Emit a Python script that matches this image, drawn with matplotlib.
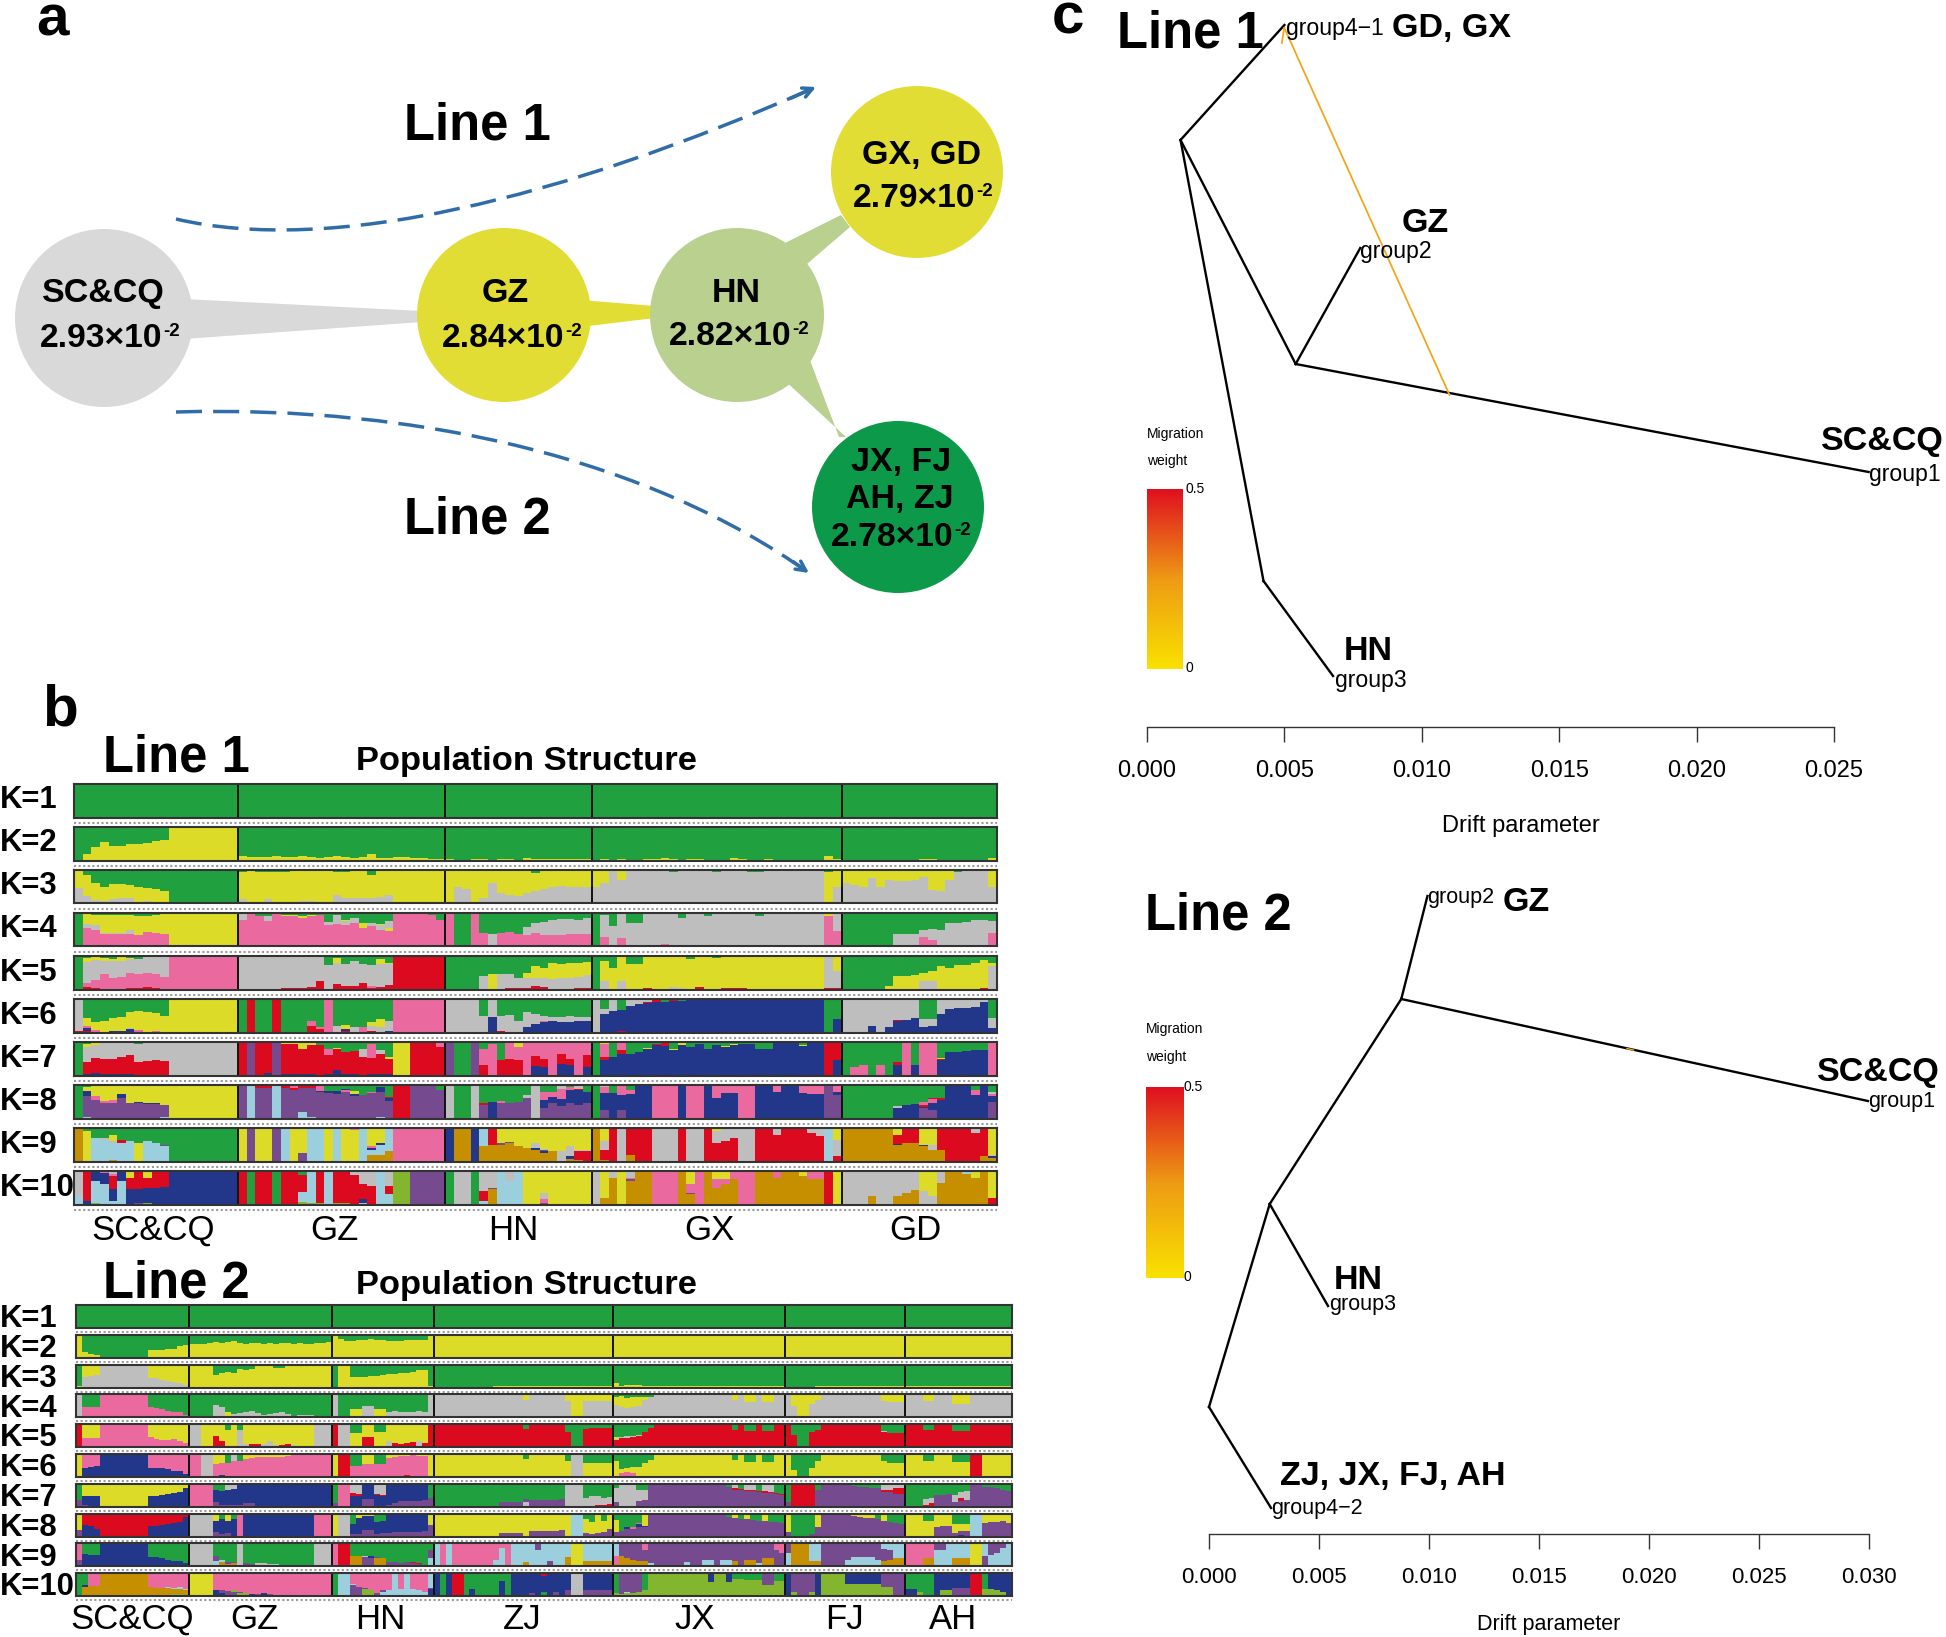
#! /usr/bin/env python3
import numpy as np
import matplotlib
matplotlib.use('Agg')
matplotlib.rcParams['font.family'] = 'Liberation Sans'
import matplotlib.pyplot as plt
from matplotlib.patches import Circle, Polygon, PathPatch
from matplotlib.path import Path
from matplotlib.colors import LinearSegmentedColormap

W, H = 1946, 1637

# admixture colours
colors = {'g': '#21A040', 'y': '#DCDC28', 'a': '#BEBEBE', 'p': '#EA6AA0', 'r': '#DC0A1E',
          'b': '#22378A', 'v': '#754A8E', 'c': '#9CCFDE', 'o': '#C68F00', 'l': '#84B52E'}

# one string per population, individuals split by |, stack from the bottom,
# last colour of a stack fills up to 100, *n repeats an individual
line1_groups = ['SC&CQ', 'GZ', 'HN', 'GX', 'GD']
line1_sizes = [19, 24, 17, 29, 18]
line1_rows = [
    ['g*19', 'g*24', 'g*17', 'g*29', 'g*18'],
    ['g|y20 g|y40 g|y55 g|y42 g|y42 g|y48 g|y50 g|y52 g|y57 g|y60 g|y*8',
     'y13 g|y10 g|y10 g|y9 g|y12 g|y9 g|y11 g|y12 g|y10 g|y8 g|y9 g|y13 g|y10 g|y8 g|y10 g|y20 g|y6 g|y7 g|y9 g|y9 g|y8 g|y6 g|y5 g|y3 g',
     'y4 g|y1 g|y1 g|y3 g|y4 g|y2 g|y3 g|y3 g|y2 g|y7 g|y4 g|y3 g|y3 g|y3 g|y5 g|y5 g|y5 g',
     'y1 g|y4 g|y2 g|y4 g|y2 g|y1 g|y3 g|y4 g|y7 g|y5 g|y2 g|y5 g|y5 g|y2 g|y2 g|y2 g|y6 g|y5 g|y2 g|y2 g|y3 g|y1 g|y2 g|y2 g|y2 g|y1 g|y2 g|y13 g|y5 g',
     'g*6|y2 g*3|y4 g*2|y2 g*3|y1 g*3|y6 g'],
    ['a45 y|a23 y61 g|a10 y52 g|a8 y42 g|a12 y46 g|a15 y43 g|a15 y40 g|a2 y46 g|a8 y37 g|a2 y41 g|a2 y36 g|g*8',
     'a14 y79 g|y97 g|y94 g|a14 y79 g|y95 g|a4 y90 g|a5 y92 g|a6 y92 g|a8 y90 g|a3 y94 g|a3 y97|a25 y68 g|a15 y80 g|a15 y82 g|a15 y81 g|a15 y70 g|a20 y77 g|a25 y73 g|y98 g|y97 g|y98 g|y97 g|y97 g|y98 g',
     'y|a50 y|a43 y|y|a15 y|a60 y|a30 y|a25 y|a22 y|a30 y|a37 y55 g|a43 y|a48 y|a52 y|a50 y|a48 y|a48 y',
     'a50 y|a60 y|a|a70 y|a*2|a96 g|a97 g*2|a95 g|a97 g*2|a*2|a94 g|a*3|a93 g*2|a*7|y93 g|a50 y',
     'a60 y|a55 y|a50 y|a75 y|a50 y|a70 y|a68 y|a68 y|a70 y|a80 y|a40 y|a38 y|a70 y|a95 g|a|a97 g|a|a50 y'],
    ['g|p56 a12 y29 g|p50 a15 y30 g|p38 a2 y55 g|p38 a3 y52 g|p38 a2 y55 g|p38 a12 y43 g|p35 y55 g|p42 y48 g|p40 y55 g|p36 y62 g|y*8',
     'p78 a|p|p90 g|p75 a15 g|p|p90 y5 g|p90 y5 g|p85 y7 g|p90 y5 g|p95 g|p63 a10 g|p68 a25 g|p65 a10 y3 g|p70 a15 g|p55 y15 g|p60 a10 g|p50 a15 y3 g|p47 y8 a20 g|p*4|p93 g|p80 g',
     'p|g*2|p|p40 g|a38 g|p40 g|p42 g|p38 g|p33 a25 g|p40 a30 g|p35 a38 g|p33 a47 g|p33 a50 g|p36 a45 g|p38 a42 g|p38 a47 g',
     'g|p28 a67 g|a60 g|p25 a75|a70 g*2|a*2|p8 a|a|a85 g|a*2|a92 g|a*5|a90 g|a*7|p90 y|p45 a',
     'g*6|p5 a32 g|a37 g|a38 g|p28 a22 g|p20 a32 g|a48 g|a70 g|a70 g|a72 g|a80 g|a78 g|p40 a35 g'],
    ['g|r8 p10 a65 y12 g|r3 p25 a60 y10 g|p45 a40 y10 g|p35 a50 y5 g|p38 a47 y15|r5 p45 a40 y5 g|r5 p42 a43 g|r8 p40 a52|r5 p40 a55|p38 a62|p*8',
     'a*5|r3 a|r5 a|r5 a|r8 a|r25 a|a73 g|r15 a65 y15 g|r10 a65 g|r10 a75 g|r20 a57 g|r5 p5 a62 g|r7 a70 y15 g|r13 a62 y5 g|r*6',
     'g*4|a40 g|y45 g|a45 g|r5 a40 g|r5 a30 g|r3 a30 y15 g|r10 a25 y35 g|r8 a25 y30 g|a30 y50 g|a35 y40 g|a35 y45 g|r3 a35 y40 g|r3 a40 y40 g',
     'g|a25 y60 g|y65 g|a25 y75|y75 g*2|r3 y|y*2|a8 y|a5 y|y90 g|r8 y|y|y95 g|r3 y*2|r3 y|y*9|r3 a|r5 a50 y',
     'g*5|y10 g|y40 g|y40 g|y42 g|a25 y25 g|a25 y30 g|y70 g|y65 g|y72 g|y74 g|y78 g|r3 y85 g|a70 y10 g'],
    ['r3 a|r5 b8 p7 y22 g|r2 p4 y25 g|y35 g|b4 y40 g|b5 y42 g|b10 a3 y47 g|p8 y57 g|y62 g|p5 y52 g|y50 g|y*8',
     'g|r|g*2|r|g*3|r20 p15 g|r10 p5 g|p|a18 g|r3 b7 y12 g|a15 g|p15 g|r5 a15 y10 g|a15 y25 g|r2 b3 a30 g|p*6',
     'a*4|a50 g|b45 a|r3 a45 g|r2 a50 g|a35 g|b15 a45 g|b25 a30 g|b30 p5 a15 g|b35 a10 g|b32 a15 g|b32 a18 g|b35 a12 g|b35 a10 g',
     'a|b55 a15 g|b65 a|r3 b65 g|b80 a|b85 a|b88 r3 a|b90 r|b92 g|b94 r|b95 g|b96 g*3|b97 r|b*12|g|b40 g',
     'a*3|b20 a|a|b15 a|b35 r3 a|b38 a|b42 a|b16 a24 g|b20 a20 g|b55 a|b70 a|b72 a|b74 a|b75 a|b90 a|b12 a30 g'],
    ['g|b5 r35 a45 y10 g|b7 r45 a40 y5 g|b3 r45 a52|b3 r45 a52|b5 r50 a|b5 r55 a|r40 a55 g|r42 a|r45 a|r42 a|a*8',
     'r|v|r|b8 r|v|b3 r92 y|b3 r90 y|b5 r75 y|b3 r88 y|r90 g|b3 r57 p20 g|b15 r65 y3 g|b5 r65 g|b4 r70 g|r55 a25 g|b3 r50 p40 g|b3 r60 a12 g|b5 r45 y5 g|y*2|r*3|r85 p',
     'v|g*2|v|r30 p50 g|p95 g|r45 g|r50 p|r45 p40 y|p|b28 r30 p|b25 r25 p|p|b35 r30 p|b30 r20 p|p|b25 r35 p',
     'g|b45 r10 p40 y|b55 g|b65 r10 p|b65 g|b70 g|b78 y5 g|b90 r5 g|b88 r8 g|b75 y3 g|b92 y4 g|b85 g|b95 g|b80 g|b90 g|b85 y3 g|b92 y3 g|b95 g|b95 g|b78 g|b80 g|b*3|b88 y4 g|b*2|r|b45 r',
     'g|p25 g|p30 g|g|p30 g|g|b30 r10 g|p|b30 g|p*2|b45 r3 y5 g|b70 g|b70 g|b72 g|b75 g|b75 g|p'],
    ['g|c3 v65 b15 y12 g|c2 v53 p12 y|v45 p8 y|v47 p8 y|v60 b12 y|v45 y|v45 b3 y|v43 b3 y|v42 b3 y|c3 v37 y|y*8',
     'v|c|v92 r|v90 r|c|v90 r|v85 r5 p|c20 v72 r|c5 v85 r|v78 b3 p|v75 b7 g|v72 b10 g|v78 p8 b3 g|v68 b4 y10 g|v70 g|v75 p5 g|c3 v75 b15 g|v52 b8 r5 g|r*2|v*3|v85 g',
     'a|g*2|a|v40 r5 g|b50 g|v45 p8 g|v45 g|v50 g|v60 a10 g|a|v30 b25 p25 g|v45 b20 p15 g|v38 b20 p30 a|v45 b40 p10 g|v40 b45 r3 a|v45 b35 g',
     'g|v25 b50 p20 a|b75 g|v25 b45 p|b72 p13 g|b*2|p*3|b|p*2|b|b60 p|b75 p*2|p*2|b*2|b80 p|b*2|b75 p|b72 p*2|v|v70 b10 p',
     'g*6|b30 a8 g|b40 g|b42 g|v30 b5 r5 p10 g|v25 b20 p12 r5 g|b55 r5 g|b*3|b70 p15 g|b|v48 b20 p5 a5 g'],
    ['o|y90 g|c70 g|c65 a5 g|o3 c52 a5 y20 g|c55 r10 g|c60 g|y55 g|c60 g|c55 g|c45 v3 g|g*8',
     'y|v|y*2|v|c|y|v25 y|c*2|y|c|y|y93 p|c|o20 c15 b5 p5 y|o20 c30 b5 y|o30 c|p*6',
     'b|o*2|b|o45 c|o50 r|o50 v5 y|o55 v3 y|o45 y|o40 y|o35 b5 a15 y|o25 b5 v3 a5 y|o30 y|a30 y|o8 b8 a30 y|o5 r25 a5 y|r30 a5 y',
     'o|o5 r30 a25 y|r|a|o20 r|r*2|a*3|r|a*2|r|r55 a35 y|r60 a|r70 a|a*2|r*2|r80 a|r*3|r85 a|r75 a|c|r15 a50 y',
     'o*6|o50 b3 r25 y|o55 r|o55 r|o45 b5 y|o35 a15 y|o35 r|r*3|r85 a|o15 r|o10 b5 a5 y'],
    ['c25 a|b10 r|l5 c65 b|c60 b35 p|c10 b35 r40 p5 a|c70 b|b45 r35 y|v5 b40 r|l3 b47 r30 y|b50 r|b52 r|b*8',
     'r|g|r*2|g|r*2|l8 c30 r50 g|l3 c|l5 r|c|l3 r*2|r88 a|c5 b10 r45 a|r55 a|c|c30 r25 a|l*2|v*4',
     'g|a*2|g|c10 r30 a|o45 v5 a|c|c70 a|c|y*2|v5 p10 a20 y|y*5',
     'a|o20 y|o80 a|y|o70 v5 p5 a|o*2|p*3|o|o30 v5 p25 y|p|o|o50 p25 y|o60 p15 y|o75 p|p*2|o*2|o80 p|o*2|o85 y|o75 p*2|r|y',
     'a*3|o25 a|a*2|o25 a|o35 a|o42 a|a40 y|a25 y|o65 a|o*2|o90 c|o80 y|o|r20 y'],
]

line2_groups = ['SC&CQ', 'GZ', 'HN', 'ZJ', 'JX', 'FJ', 'AH']
line2_sizes = [19, 24, 17, 30, 29, 20, 18]
line2_rows = [
    ['g*19', 'g*24', 'g*17', 'g*30', 'g*29', 'g*20', 'g*18'],
    ['y|y25 g|y15 g|y12 g|g*8|y35 g|y35 g|y35 g|y40 g|y40 g|y50 g|y55 g',
     'y60 g|y60 g|y62 g|y65 g|y70 g|y65 g|y70 g|y72 g|y65 g|y62 g|y65 g|y65 g|y62 g|y65 g|y62 g|y63 g|y65 g|y62 g|y63 g|y62 g|y62 g|y65 g|y65 g|y68 g',
     'y|y80 g|y75 g*2|y78 g*2|y82 g|y78 g*2|y75 g*3|y76 g*3|y77 g|y',
     'y*10|y97 g*2|y*18', 'y*29', 'y*20', 'y*18'],
    ['y8 g|a45 y|a50 y|a55 y|a*8|a40 y|a40 y|a35 y|a30 y|a25 y|a22 y|a10 y',
     'y*4|y55 g|a3 y62 g|y70 g|y65 g|y80 g|y75 g|y80 g|y|y*2|y85 g*2|y*8',
     'g|y*2|y45 g|y48 g*2|y50 g*2|y55 g|y60 g*2|y65 g*2|y70 g|y75 g|y78 g|y8 g',
     'y3 g*10|y8 g*20', 'y22 g|y8 g|y10 g*3|y6 g*24', 'g*5|y6 g*15', 'y6 g*18'],
    ['a|p45 g*3|p*8|p45 g|p40 g|p35 g|p30 g|p25 g|p22 g|p10 g',
     'g*4|a55 g|a45 g|y25 g|a15 g|a20 g|a25 g|a28 g|a20 g|a10 g|a15 g|a20 g|a25 g|a15 g|a8 g|a10 g|a12 g|a10 g|a8 g|a6 g|a8 g',
     'a|y8 g*2|y38 g|y38 g|a50 g|a50 g|y35 g|y35 g|a25 g|a28 g|a25 g|a22 g|a25 g|a28 g|a25 g|a',
     'a*15|a75 y|a*5|a|a70 y|y*2|a70 y*5',
     'a55 y35 g|a45 y50 g|a40 y45 g|a45 y45 g|a50 y40 g|a75 y15 g|a90 g|a*13|a75 y|a|a65 y*2|a|a65 y*2|a*2',
     'a|a50 y|y*2|a60 y|a75 y|a*10|a70 y|a65 y*3',
     'a*3|a70 y*2|a*3|a60 y*3|a*7'],
    ['r|p40 y*3|p*8|p45 y|p35 y|r3 p30 y|r5 p25 y|r5 p30 y|r5 p20 y|r3 p15 y',
     'a*2|y*2|r50 y|r25 y|y75 g|r5 y|a75 g|a12 y|r15 y|r15 y|a15 y|a25 y|a10 y|r8 y|r12 y|a8 y|y*3|a*3',
     'r|a*2|y60 g*2|r45 y*2|y65 g*2|a25 y|r20 y|r15 y|r18 y|r22 y|a25 y|r20 y|r',
     'r*15|r80 g|r*6|r65 g|g*2|r80 g|r85 g*4',
     'r30 a5 y10 g|r40 a5 g|r40 a8 g|r45 a5 g|r50 a5 g|r65 g|r85 g|r*13|r75 g|r|r70 g*2|r|r70 g*2|r*2',
     'r|r55 g|g*2|r65 g|r75 g|r*10|r65 a5 g|r60 g*3',
     'r*3|r75 g*2|r*3|r70 g*3|r*7'],
    ['r3 y|b40 p|b45 p|b50 p|b*8|b40 p|b40 p|b40 p|b35 p|b25 p|b25 p|b15 p',
     'p*2|a*2|b5 p50 y|b8 p52 y|p60 g|b3 p65 a|p70 g|r3 p75 y|r3 p80 y|r3 p82 y|r5 p80 y|r5 p83 y|r3 p85 y|r5 p80 y|r6 p84 y|p*7',
     'y|r*2|r5 p45 g*2|r5 p50 y*2|r3 p55 g*2|b3 r3 p75 y|b3 r3 p80 y|b5 p85 y|b5 r3 p85 y|r6 p88 y|r5 p85 y|r5 p85 y|y',
     'y*15|y80 g|y*6|y70 g|a*2|y60 g*5',
     'y70 g|r3 p15 y15 g|r3 p17 y20 g|r3 p15 y25 g|r3 y40 g|y60 g|y75 g|y*13|y75 g|y|y65 g*2|y|y65 g*2|y*2',
     'y|y30 g|g*2|y40 g|y70 g|y*10|y70 g|y60 g*3',
     'y*3|y70 g*2|y*3|y65 g*3|r*2|y*5'],
    ['v30 g|v8 b40 y|b45 y|b45 y|y*8|b45 y|b45 y|b50 y|b55 y|b58 y|b65 y|b80 y',
     'p*4|v20 b55 g|v10 b60 g|v10 b62 a|v10 b68 a|v8 b92|v15 b85|v15 b85|b95 r|b*12',
     'v15 g|p*2|b48 r12 a|b45 r10 a|v35 b60|v35 b60 g|b50 r5 a|b45 r5 a|v10 b85|v15 b80|v25 b70|v25 b70|v25 b75|v25 b75|v28 b72|v40 g',
     'g*11|v20 g*4|a20 v15 g|v28 g*5|v35 g|a*3|r5 a35 g|r5 a40 g|r8 a40 g|r8 a30 g|r12 a30 g',
     'v20 a60 g|a*3|v25 a50 g|v30 a45 g|v*12|v95 g|v85 g|v75 r5 a|v72 r5 g|v70 r5 a|v68 r5 a|v65 r5 g|v62 r5 a|v60 r5 a|v55 r5 g|v50 r5 g',
     'v20 g|r*4|v75 g|v*4|v93 g|v90 g|v85 g*2|v80 r3 g|v80 r3 g|v65 r8 a|v65 r8 a|v55 r25 a|v55 r25 a',
     'g*3|r10 a25 g|r15 a25 g|v50 g|v52 g|v55 g|v20 a30 g|v25 r15 a25 g|b5 v25 a40 g|v*2|v85 g*2|v80 g|v75 g|v70 g'],
    ['v30 y|b50 r|b45 r|b35 r|r*8|b45 r|b45 r|b50 r|b55 r|b60 r|b65 r|b85 r',
     'a*4|v18 b52 y|v10 b65 g|v15 b55 y|b78 g|p|b*12|p*3',
     'y|a*2|v10 b45 g|v10 b70 y|v30 b60 y|v30 b60 y|v10 b55 g|v15 b55 g|v15 b85|v20 b80|v20 b80|v20 b80|v20 b80|v20 b80|v25 b75|v50 y',
     'y*11|v15 y*4|y|v25 y*5|v30 y|y|c*2|v15 y60 g|v10 y55 g|v15 y|v20 y50 g|v35 y',
     'v18 y55 g|v25 g|v35 b8 g|v35 p5 g|v40 b15 p5 g|v40 b5 y|v*12|v95 y|v85 g|v82 y|v78 g|v75 y|v72 g|v70 g|v68 y|v65 g|v62 g|v60 g',
     'v20 y|g*3|v10 g|v40 y|v*4|v92 y|v88 y|v85 y|v80 y|v80 y|v75 g|v70 y|v65 g|v60 g|v55 g',
     'y*3|y70 g*2|v40 y|v45 y|v48 y|v15 y40 g|b5 v20 y30 g|v25 y30 g|c*2|v60 y|v65 y|v65 y|v70 y|v60 y'],
    ['v30 p|p5 b50 g|b50 g|b50 g|b*8|b40 g|b40 g|b35 g|b30 g|b25 g|b25 g|b15 g',
     'a*4|c22 v22 g|o18 c8 g|o12 v8 g|o15 v5 g|a|v15 g|v12 g|v8 a5 g|a15 g|v5 a5 g|c10 g|c8 g|g*5|a*3',
     'p|r*2|o45 g|o45 g|v40 c5 g|v35 b10 g|o35 v5 g|o35 g|v20 g|v18 g|v15 g|v18 r3 g|v15 r3 g|v10 r3 g|v8 g|c35 v35 g',
     'c|p|c|p*7|c30 p|c80 p|p|c*2|o20 c|c|c70 v|c|v25 c|c|c|o40 c|y*2|o25 c*5',
     'o10 p35 c|o45 v|o35 v|o30 v|o25 v|o25 v45 p|c15 v|v*5|c20 v|v*2|c30 v*2|v|c30 v*2|o25 v|v|o30 v*2|c15 v|o35 v*2|v70 p|v60 p',
     'c60 v|o*3|o25 c*2|c5 v|v*3|c30 v|c40 v*4|c30 v|o25 v50 c|o30 v40 c|o35 c|o35 c',
     'p*3|o35 p*2|c70 v*2|c|o35 c*3|y*2|v45 c|c50 v|c60 v|c80 v|c'],
    ['g|o40 b8 c2 g|o45 p|o45 p|o*8|o38 p|o35 p|o35 p|l5 o30 c5 p|l10 o20 c5 p|l8 o25 c5 p|o25 c5 p',
     'y*4|b25 p|b15 v10 p|v22 p|v20 l5 p|l15 v5 p|l12 p|b8 p|r3 v8 p|b12 p|v10 p|v5 p|r5 p|r3 p|p*7',
     'g|c*2|v50 c5 p|v40 p|l30 v5 p|l25 p|v15 p|c20 v5 p|c25 p|c|c30 p|c|c30 p|c25 p|c20 p|b30 v5 c',
     'b|g|b|r*2|g|b30 g|g*4|b65 g|g|b*3|v15 b|b|g20 b70 r|b|v20 b|b|v25 b|a*2|v25 b*5',
     'l15 g|l10 v|l15 c5 v|l15 v|l20 v|l25 g|l*10|l60 b|l|l|l60 b|l75 g|l75 g|l72 g|l70 g|l70 g|l50 v|l50 v|l65 g|l65 g',
     'b|l20 v|v*2|l20 v|b|l*4|l55 b*6|l40 v*2|v*2',
     'b30 g*2|l20 g|g*2|b|l25 b*2|v35 b*3|r*2|l30 g|l30 b|l25 b|l20 b|b'],
]

# diffusion bubbles: centre x, y, radius, colour
bubbles = [
    (104, 318, 89, '#D9D9D9'),
    (504, 315, 87, '#E2DD35'),
    (737, 315, 87, '#B9D08F'),
    (917, 172, 86, '#E2DD35'),
    (898, 507, 86, '#0C9A4A'),
]
# nucleotide diversity per bubble: text, left x, baseline y
pi_values = ['2.93', '2.84', '2.82', '2.79', '2.78']
pi_x = [40, 442, 669, 853, 831]
pi_y = [347, 347, 345, 207, 546]

# treemix trees, tips and nodes as (drift, layout position)
tree1_branches = [((0.00122, 140), (0.0050, 25)),
                  ((0.00122, 140), (0.00541, 364)),
                  ((0.00541, 364), (0.00776, 248)),
                  ((0.00541, 364), (0.02626, 472)),
                  ((0.00122, 140), (0.00424, 581)),
                  ((0.00424, 581), (0.00677, 676))]
tree1_migration = [((0.0050, 28), (0.01101, 395)), ((0.00499, 28), (0.00491, 43))]
tree1_ticks = [0.000, 0.005, 0.010, 0.015, 0.020, 0.025]
tree2_branches = [((0.0, 1407), (0.00282, 1508)),
                  ((0.0, 1407), (0.00276, 1204)),
                  ((0.00276, 1204), (0.00541, 1306)),
                  ((0.00276, 1204), (0.00874, 999)),
                  ((0.00874, 999), (0.00993, 896)),
                  ((0.00874, 999), (0.02995, 1101))]
tree2_migration = [((0.0190, 1048.5), (0.0193, 1050))]
tree2_ticks = [0.000, 0.005, 0.010, 0.015, 0.020, 0.025, 0.030]


def box(x0, y0, x1, y1):
    return [x0 / W, 1 - y1 / H, (x1 - x0) / W, (y1 - y0) / H]


def parse_pop(text, size):
    inds = []
    for part in text.split('|'):
        count = 1
        if '*' in part:
            part, count = part.split('*')
        stack = []
        total = 0
        for tok in part.split():
            val = float(tok[1:]) if len(tok) > 1 else 100 - total
            stack.append((tok[0], val))
            total += val
        inds += [stack] * int(count)
    while len(inds) < size:
        inds.append(inds[-1])
    return inds[:size]


def draw_structure(rows, sizes, x0, x1, top, height, step, band):
    n = sum(sizes)
    edges = np.cumsum(sizes)[:-1]
    for k, row in enumerate(rows):
        y0 = top + k * step
        ax = fig.add_axes(box(x0, y0, x1, y0 + height))
        inds = []
        for text, size in zip(row, sizes):
            inds += parse_pop(text, size)
        for i, stack in enumerate(inds):
            bottom = 0
            for c, val in stack:
                ax.bar(i + 0.5, val, width=1.0, bottom=bottom, color=colors[c], linewidth=0, antialiased=False)
                bottom += val
        ax.vlines(edges, 0, 100, color='#111111', lw=1.4)
        ax.set_xlim(0, n)
        ax.set_ylim(0, 100)
        ax.set_xticks([])
        ax.set_yticks([])
        for s in ax.spines.values():
            s.set_linewidth(1.5)
            s.set_color('#333333')
        # the sample ids are an unreadable grey band in the source
        ax.plot([0, n], [band, band], clip_on=False, color='#9a9a9a', lw=1.5, ls=(0, (1.0, 1.2)))


def draw_tree(branches, migration, ticks, x0, x1, y0, y1, fs, lw_mig):
    ax = fig.add_axes(box(x0, y0, x1, y1))
    ax.patch.set_visible(False)
    for a, b in branches:
        ax.plot([a[0], b[0]], [a[1], b[1]], color='black', lw=1.7, clip_on=False)
    for a, b in migration:
        ax.plot([a[0], b[0]], [a[1], b[1]], color='#F0A81E', lw=lw_mig, clip_on=False)
    ax.set_xlim(ticks[0], ticks[-1])
    ax.set_ylim(y1, y0)
    ax.set_xticks(ticks)
    ax.set_xticklabels(['%.3f' % t for t in ticks], fontsize=fs)
    ax.tick_params(axis='x', length=11, width=1.0, pad=13, color='#333333')
    ax.set_yticks([])
    for s in ['top', 'left', 'right']:
        ax.spines[s].set_visible(False)
    ax.spines['bottom'].set_bounds(ticks[0], ticks[-1])
    ax.spines['bottom'].set_linewidth(1.0)
    ax.spines['bottom'].set_color('#333333')


def draw_colorbar(x0, y0, x1, y1):
    ax = fig.add_axes(box(x0, y0, x1, y1))
    ax.imshow(np.linspace(1, 0, 128).reshape(-1, 1), cmap=mig_cmap, aspect='auto')
    ax.axis('off')


fig = plt.figure(figsize=(W / 100, H / 100), dpi=100)
mig_cmap = LinearSegmentedColormap.from_list('mig', ['#F9E200', '#EE9A14', '#DF1020'])

draw_structure(line1_rows, line1_sizes, 74, 997, 784, 33.5, 43, -15)
draw_structure(line2_rows, line2_sizes, 76, 1012, 1305, 23, 29.8, -17)
draw_tree(tree1_branches, tree1_migration, tree1_ticks, 1147, 1834, 0, 727, 17, 1.3)
draw_tree(tree2_branches, tree2_migration, tree2_ticks, 1209, 1869, 880, 1534, 16, 1.0)
draw_colorbar(1147, 489, 1183, 669)
draw_colorbar(1146, 1087, 1184, 1278)

# page level layer in pixel coordinates for panel a and the labels
ov = fig.add_axes([0, 0, 1, 1])
ov.set_xlim(0, W)
ov.set_ylim(H, 0)
ov.axis('off')

wedges = [([(184, 299), (184, 339), (422, 322), (422, 311)], '#D9D9D9'),
          ([(580, 300), (580, 327), (655, 318), (655, 306)], '#E2DD35'),
          ([(779, 246), (800, 270), (850, 227), (841, 215)], '#B9D08F'),
          ([(808, 355), (782, 378), (846, 437), (839, 437)], '#B9D08F')]
for pts, c in wedges:
    ov.add_patch(Polygon(pts, closed=True, facecolor=c, edgecolor='none', zorder=1))
for cx, cy, r, c in bubbles:
    ov.add_patch(Circle((cx, cy), r, facecolor=c, edgecolor='none', zorder=2))

arrows = [[(176, 219), (330, 255), (560, 200), (816, 87)],
          [(176, 412), (420, 405), (650, 460), (809, 573)]]
for pts in arrows:
    ov.add_patch(PathPatch(Path(pts, [Path.MOVETO, Path.CURVE4, Path.CURVE4, Path.CURVE4]), fill=False,
                           edgecolor='#2F6CA8', lw=2.5, ls=(0, (7.5, 3.2)), zorder=2))
    ov.annotate('', xy=pts[3], xytext=(pts[3][0] - (pts[3][0] - pts[2][0]) * 0.1, pts[3][1] - (pts[3][1] - pts[2][1]) * 0.1),
                arrowprops=dict(arrowstyle='->,head_length=0.7,head_width=0.35', color='#2F6CA8', lw=2.5, shrinkA=0, shrinkB=0), zorder=3)


def label(x, y, s, size, weight='normal', ha='left', va='center', color='black'):
    # va center of matplotlib sits a bit high compared with cap height centres
    if va == 'center':
        y = y + size * 0.14
    ov.text(x, y, s, fontsize=size, fontweight=weight, ha=ha, va=va, color=color, zorder=5)


for x, y, s in [(36, 35, 'a'), (42, 726, 'b'), (1052, 33, 'c')]:
    label(x, y, s, 42, 'bold', va='baseline')
for x, y, s in [(404, 139, 'Line 1'), (404, 533, 'Line 2'), (103, 772, 'Line 1'), (103, 1297, 'Line 2'),
                (1117, 48, 'Line 1'), (1145, 930, 'Line 2')]:
    label(x, y, s, 36.5, 'bold', va='baseline')
for x, y, s in [(356, 770, 'Population Structure'), (356, 1294, 'Population Structure')]:
    label(x, y, s, 24.8, 'bold', va='baseline')

# bubble captions
for x, y, s in [(103, 302, 'SC&CQ'), (505, 302, 'GZ'), (736, 302, 'HN'), (921, 164, 'GX, GD'),
                (901, 471, 'JX, FJ'), (900, 508, 'AH, ZJ')]:
    label(x, y, s, 24.5, 'bold', ha='center', va='baseline')
for val, x, y in zip(pi_values, pi_x, pi_y):
    label(x, y, val + '×10', 24.2, 'bold', va='baseline')
    label(x + 123, y - 11, '-2', 13.5, 'bold', va='baseline')

# K labels and population labels
for k in range(10):
    label(0, 784 + 13 + k * 43.1, 'K=%d' % (k + 1), 22.3, 'bold')
    label(0, 1305 + 11 + k * 29.8, 'K=%d' % (k + 1), 22.3, 'bold')
for x, s in zip([153, 334, 513, 709, 915], line1_groups):
    label(x, 1227, s, 25, ha='center')
for x, s in zip([132, 254, 380, 522, 695, 844, 953], line2_groups):
    label(x, 1616, s, 25, ha='center')

# tree labels
for x, y, s, ha in [(1392, 25, 'GD, GX', 'left'), (1425, 220, 'GZ', 'center'), (1944, 438, 'SC&CQ', 'right'),
                    (1368, 648, 'HN', 'center'), (1503, 899, 'GZ', 'left'), (1940, 1069, 'SC&CQ', 'right'),
                    (1358, 1277, 'HN', 'center'), (1280, 1473, 'ZJ, JX, FJ, AH', 'left')]:
    label(x, y, s, 24.5, 'bold', ha=ha)
for x, y, s, ha in [(1286, 26, 'group4\u22121', 'left'), (1360, 249, 'group2', 'left'), (1941, 472, 'group1', 'right'),
                    (1335, 678, 'group3', 'left')]:
    label(x, y, s, 16.6, ha=ha)
for x, y, s, ha in [(1427, 895, 'group2', 'left'), (1935, 1099, 'group1', 'right'), (1329, 1302, 'group3', 'left'),
                    (1271, 1506, 'group4\u22122', 'left')]:
    label(x, y, s, 15.5, ha=ha)
label(1521, 824, 'Drift parameter', 17, ha='center')
label(1549, 1622, 'Drift parameter', 15.5, ha='center')
for x, y0, y1, y2, y3 in [(1147, 433, 460, 488, 667), (1146, 1028, 1056, 1086, 1276)]:
    label(x, y0, 'Migration', 10)
    label(x, y1, 'weight', 10)
    label(x + 38, y2, '0.5', 10)
    label(x + 38, y3, '0', 10)

fig.savefig('out.png', dpi=100)
